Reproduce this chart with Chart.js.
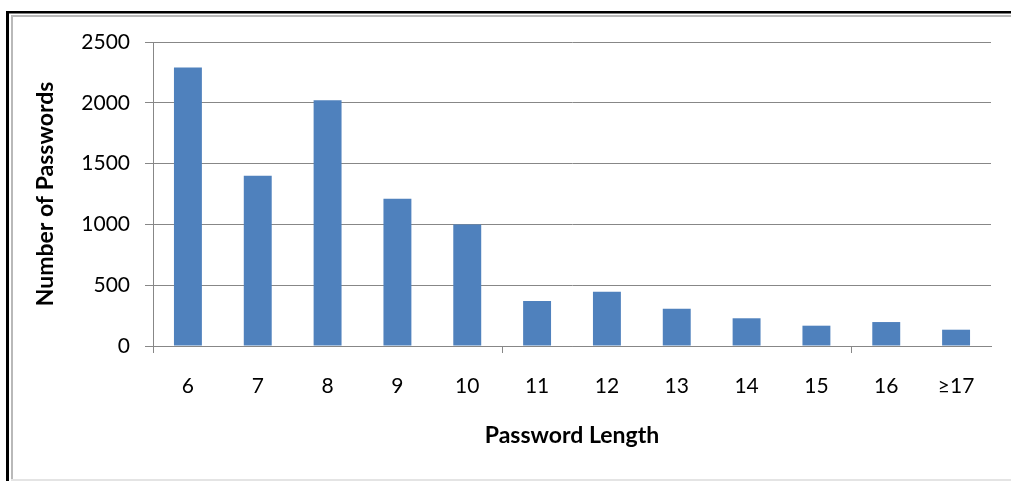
<!DOCTYPE html>
<html>
<head>
<meta charset="utf-8">
<script src="https://cdn.jsdelivr.net/npm/chart.js@4/dist/chart.umd.min.js"></script>
<style>
  html, body { margin: 0; padding: 0; background: #fff; }
  #wrap { width: 1011px; height: 481px; position: relative; }
</style>
</head>
<body>
<div id="wrap"><canvas id="c" width="1011" height="481"></canvas></div>
<script>
// Password length categories and how many passwords fall in each
const lengths = ['6', '7', '8', '9', '10', '11', '12', '13', '14', '15', '16', '≥17'];
const passwordCounts = [2290, 1400, 2020, 1210, 1000, 370, 447, 307, 228, 167, 197, 134];
const countTicks = [0, 500, 1000, 1500, 2000, 2500];

const GRID = '#878787';
const TEXT = '#000000';
const FONT = 'Lato, "DejaVu Sans", sans-serif';

// Framed panel behind the chart: dark outer rule with a soft grey inner rule
const framePlugin = {
  id: 'frame',
  beforeDraw(chart) {
    const { ctx, width, height } = chart;
    ctx.save();
    ctx.fillStyle = '#ffffff';
    ctx.fillRect(0, 0, width, height);
    ctx.fillStyle = '#000000';
    ctx.fillRect(6, 11, 3, height - 11);
    ctx.fillRect(6, 11, width - 6, 2.5);
    ctx.fillStyle = '#b9b9b9';
    ctx.fillRect(11, 15, 2, height - 15);
    ctx.fillRect(11, 15, width - 11, 2);
    ctx.fillStyle = '#e4e4e4';
    ctx.fillRect(11, 479, width - 11, 2);
    ctx.restore();
  }
};

new Chart(document.getElementById('c'), {
  type: 'bar',
  data: {
    labels: lengths,
    datasets: [{
      data: passwordCounts,
      backgroundColor: '#4F81BD',
      borderWidth: 0,
      barPercentage: 0.4,
      categoryPercentage: 1.0
    }]
  },
  options: {
    responsive: false,
    devicePixelRatio: 1,
    animation: false,
    events: [],
    layout: { padding: { left: 0, top: 42, right: 20, bottom: 0 } },
    plugins: {
      legend: { display: false },
      tooltip: { enabled: false },
      title: { display: false }
    },
    scales: {
      x: {
        offset: true,
        afterFit(scale) { scale.height = 135; },
        grid: {
          offset: true,
          drawOnChartArea: false,
          drawTicks: true,
          tickLength: 7,
          tickWidth: 1,
          tickColor: (c) => [0, 5, 10].includes(c.index) ? GRID : 'rgba(0,0,0,0)',
          color: (c) => [0, 5, 10].includes(c.index) ? GRID : 'rgba(0,0,0,0)'
        },
        border: { display: true, color: GRID, width: 1 },
        ticks: {
          color: TEXT,
          font: { family: FONT, size: 21 },
          padding: 21,
          maxRotation: 0,
          autoSkip: false
        },
        title: {
          display: true,
          text: 'Password Length',
          color: TEXT,
          font: { family: FONT, size: 23, weight: 'bold' },
          padding: { top: 0, bottom: 32 }
        }
      },
      y: {
        min: 0,
        max: 2500,
        afterFit(scale) { scale.width = 153; },
        afterBuildTicks(scale) { scale.ticks = countTicks.map(v => ({ value: v })); },
        grid: {
          color: GRID,
          lineWidth: 1,
          drawTicks: true,
          tickLength: 8,
          tickColor: GRID
        },
        border: { display: true, color: GRID, width: 1 },
        ticks: {
          color: TEXT,
          font: { family: FONT, size: 21 },
          padding: 15,
          callback: (v) => String(v)
        },
        title: {
          display: true,
          text: 'Number of Passwords',
          color: TEXT,
          font: { family: FONT, size: 23, weight: 'bold' },
          padding: { top: 32, bottom: 0 }
        }
      }
    }
  },
  plugins: [framePlugin]
});
</script>
</body>
</html>
